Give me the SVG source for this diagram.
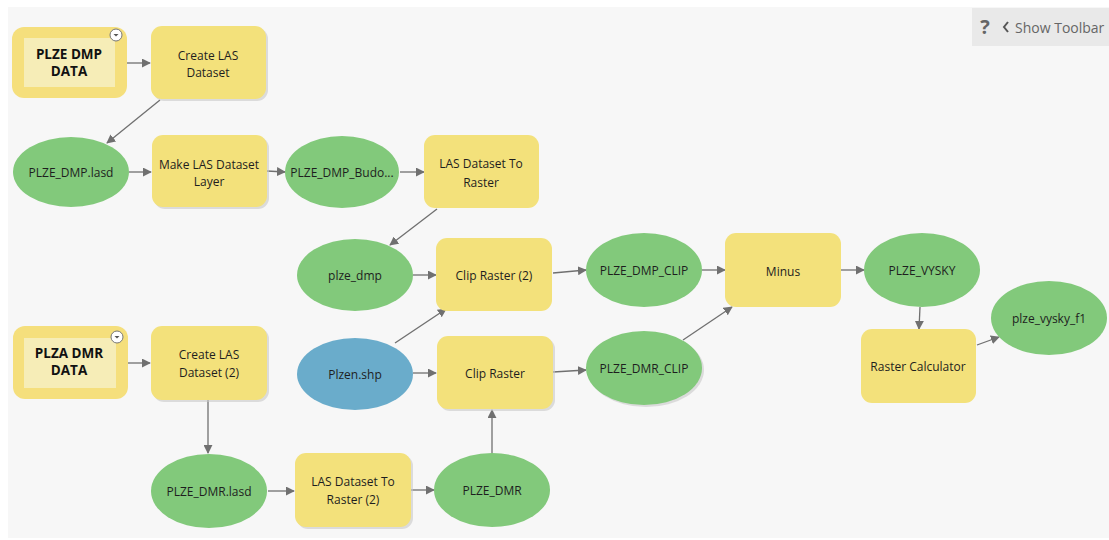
<svg xmlns="http://www.w3.org/2000/svg" width="1109" height="540" viewBox="0 0 1109 540">
<defs>
<style>
.t{font-family:"Open Sans","Noto Sans","Liberation Sans",sans-serif;font-size:12px;fill:#1e1e1e;text-anchor:middle;dominant-baseline:central}
.b{font-family:"Open Sans","Noto Sans","Liberation Sans",sans-serif;font-size:13.5px;font-weight:bold;fill:#111;text-anchor:middle;dominant-baseline:central}
.tool{fill:#f3e17b}
.sh{fill:#c8c8c8;opacity:0.6}
.data{fill:#82c97b}
.inp{fill:#6aaccb}
.c{stroke:#707070;stroke-width:1.3;fill:none;marker-end:url(#ah)}
</style>
<marker id="ah" viewBox="0 0 10 10" refX="9" refY="5" markerWidth="9" markerHeight="9" markerUnits="userSpaceOnUse" orient="auto">
<path d="M0,0 L10,5 L0,10 z" fill="#707070"/>
</marker>
</defs>
<rect x="0" y="0" width="1109" height="540" fill="#ffffff"/>
<rect x="8" y="7" width="1101" height="531" fill="#f7f7f7"/>
<g id="toolbar">
<rect x="972" y="8" width="137" height="38" fill="#e9e9e9"/>
<text x="985" y="26" style="font-family:'Open Sans','Noto Sans',sans-serif;font-size:20px;font-weight:bold;fill:#666;text-anchor:middle;dominant-baseline:central">?</text>
<path d="M1008,22 L1004,27 L1008,32" stroke="#555" stroke-width="2" fill="none"/>
<text x="1015" y="27" style="font-family:'Open Sans','Noto Sans',sans-serif;font-size:14px;fill:#666;dominant-baseline:central">Show Toolbar</text>
</g>
<g id="connectors">
<line class="c" x1="127" y1="63" x2="150" y2="63"/>
<line class="c" x1="160" y1="100" x2="107" y2="143"/>
<line class="c" x1="129" y1="172" x2="151" y2="172"/>
<line class="c" x1="267" y1="171" x2="285" y2="172"/>
<line class="c" x1="400" y1="172" x2="424" y2="172"/>
<line class="c" x1="437" y1="209" x2="390" y2="245"/>
<line class="c" x1="413" y1="275" x2="436" y2="275"/>
<line class="c" x1="395" y1="343" x2="446" y2="309"/>
<line class="c" x1="413" y1="373" x2="436" y2="373"/>
<line class="c" x1="553" y1="273" x2="586" y2="270"/>
<line class="c" x1="553" y1="372" x2="586" y2="370"/>
<line class="c" x1="702" y1="270" x2="725" y2="270"/>
<line class="c" x1="683" y1="340" x2="732" y2="307"/>
<line class="c" x1="841" y1="270" x2="864" y2="270"/>
<line class="c" x1="920" y1="307" x2="919" y2="329"/>
<line class="c" x1="977" y1="345" x2="999" y2="337"/>
<line class="c" x1="128" y1="363" x2="150" y2="363"/>
<line class="c" x1="208" y1="400" x2="208" y2="453"/>
<line class="c" x1="268" y1="491" x2="294" y2="491"/>
<line class="c" x1="411" y1="490" x2="434" y2="490"/>
<line class="c" x1="492" y1="453" x2="492" y2="410"/>
</g>
<g id="plze_dmp_data">
<rect x="12" y="27" width="115" height="71" rx="12" fill="#f5df7c"/>
<rect x="24" y="38" width="91" height="49" fill="#f6edb7"/>
<circle cx="116" cy="35" r="6" fill="#fff" stroke="#777" stroke-width="1"/>
<path d="M113.5,34 L118.5,34 L116,36.5 z" fill="#555"/>
<text class="b" x="69" y="54">PLZE DMP</text>
<text class="b" x="69" y="71">DATA</text>
</g>
<g id="create_las">
<rect class="sh" x="153" y="28" width="115" height="73" rx="11"/>
<rect class="tool" x="151" y="26" width="115" height="73" rx="11"/>
<text class="t" x="208" y="55">Create LAS</text>
<text class="t" x="208" y="72">Dataset</text>
</g>
<g id="plze_dmp_lasd">
<ellipse class="data" cx="71" cy="172" rx="58" ry="35"/>
<text class="t" x="71" y="172">PLZE_DMP.lasd</text>
</g>
<g id="make_las_layer">
<rect class="sh" x="154" y="137" width="115" height="72" rx="11"/>
<rect class="tool" x="152" y="135" width="115" height="72" rx="11"/>
<text class="t" x="209" y="164">Make LAS Dataset</text>
<text class="t" x="209" y="181">Layer</text>
</g>
<g id="plze_dmp_budo">
<ellipse class="data" cx="342" cy="172" rx="57" ry="36"/>
<text class="t" x="342" y="172">PLZE_DMP_Budo...</text>
</g>
<g id="las_to_raster">
<rect class="tool" x="424" y="135" width="115" height="73" rx="11"/>
<text class="t" x="481" y="163">LAS Dataset To</text>
<text class="t" x="481" y="182">Raster</text>
</g>
<g id="plze_dmp">
<ellipse class="data" cx="355" cy="275" rx="58" ry="36"/>
<text class="t" x="355" y="275">plze_dmp</text>
</g>
<g id="clip_raster_2">
<rect class="tool" x="436" y="238" width="116" height="73" rx="11"/>
<text class="t" x="494" y="275">Clip Raster (2)</text>
</g>
<g id="plze_dmp_clip">
<ellipse class="data" cx="644" cy="270" rx="58" ry="37"/>
<text class="t" x="644" y="270">PLZE_DMP_CLIP</text>
</g>
<g id="minus">
<rect class="tool" x="725" y="233" width="116" height="74" rx="11"/>
<text class="t" x="783" y="271">Minus</text>
</g>
<g id="plze_vysky">
<ellipse class="data" cx="922" cy="270" rx="58" ry="37"/>
<text class="t" x="922" y="270">PLZE_VYSKY</text>
</g>
<g id="raster_calculator">
<rect class="tool" x="861" y="329" width="115" height="74" rx="11"/>
<text class="t" x="918" y="366">Raster Calculator</text>
</g>
<g id="plze_vysky_f1">
<ellipse class="data" cx="1049" cy="318" rx="58" ry="37"/>
<text class="t" x="1049" y="318">plze_vysky_f1</text>
</g>
<g id="plza_dmr_data">
<rect x="13" y="326" width="115" height="73" rx="12" fill="#f5df7c"/>
<rect x="24" y="338" width="92" height="50" fill="#f6edb7"/>
<circle cx="117" cy="337" r="6" fill="#fff" stroke="#777" stroke-width="1"/>
<path d="M114.5,336 L119.5,336 L117,338.5 z" fill="#555"/>
<text class="b" x="69" y="353">PLZA DMR</text>
<text class="b" x="69" y="370">DATA</text>
</g>
<g id="create_las_2">
<rect class="sh" x="153" y="328" width="116" height="74" rx="11"/>
<rect class="tool" x="151" y="326" width="116" height="74" rx="11"/>
<text class="t" x="209" y="354">Create LAS</text>
<text class="t" x="209" y="372">Dataset (2)</text>
</g>
<g id="plzen_shp">
<ellipse class="inp" cx="355" cy="374" rx="58" ry="36"/>
<text class="t" x="355" y="374">Plzen.shp</text>
</g>
<g id="clip_raster">
<rect class="sh" x="439" y="338" width="116" height="73" rx="11"/>
<rect class="tool" x="437" y="336" width="116" height="73" rx="11"/>
<text class="t" x="495" y="373">Clip Raster</text>
</g>
<g id="plze_dmr_clip">
<ellipse class="sh" cx="646" cy="370" rx="58" ry="37"/>
<ellipse class="data" cx="644" cy="368" rx="58" ry="37"/>
<text class="t" x="644" y="368">PLZE_DMR_CLIP</text>
</g>
<g id="plze_dmr_lasd">
<ellipse class="data" cx="209" cy="491" rx="58" ry="37"/>
<text class="t" x="209" y="491">PLZE_DMR.lasd</text>
</g>
<g id="las_to_raster_2">
<rect class="sh" x="297" y="455" width="116" height="74" rx="11"/>
<rect class="tool" x="295" y="453" width="116" height="74" rx="11"/>
<text class="t" x="353" y="481">LAS Dataset To</text>
<text class="t" x="353" y="499">Raster (2)</text>
</g>
<g id="plze_dmr">
<ellipse class="data" cx="492" cy="490" rx="58" ry="37"/>
<text class="t" x="492" y="490">PLZE_DMR</text>
</g>
</svg>
